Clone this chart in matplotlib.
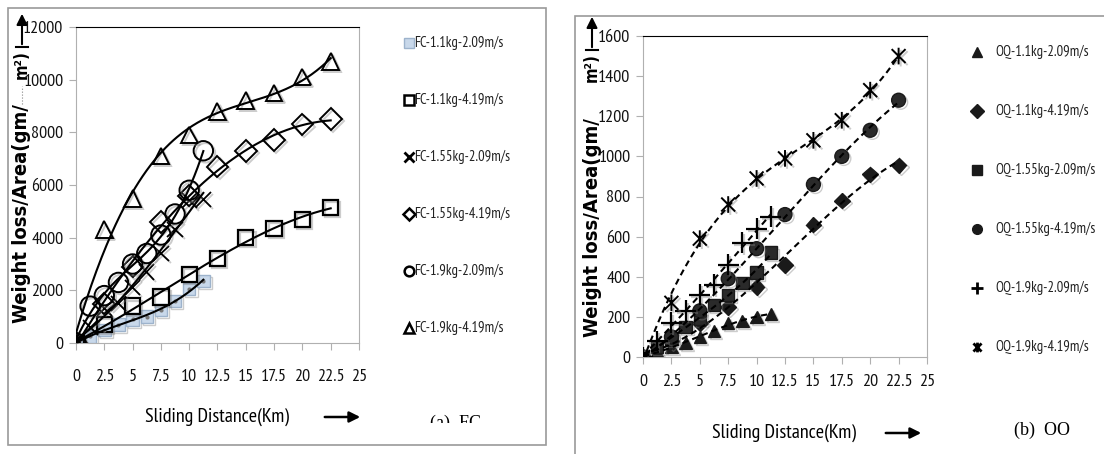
import numpy as np
import matplotlib.pyplot as plt
from matplotlib.lines import Line2D
from matplotlib.patches import Rectangle, FancyArrowPatch
from matplotlib.path import Path
import matplotlib.patheffects as pe

# fuente estrecha parecida a Calibri
plt.rcParams['font.family'] = ['PT Sans Narrow', 'DejaVu Sans']

# Datos
x_corto = [0, 1.25, 2.5, 3.75, 5, 6.25, 7.5, 8.75, 10, 11.25]
x_largo = [0, 2.5, 5, 7.5, 10, 12.5, 15, 17.5, 20, 22.5]
tick_x = [0, 2.5, 5, 7.5, 10, 12.5, 15, 17.5, 20, 22.5, 25]
tick_x_lab = ['0', '2.5', '5', '7.5', '10', '12.5', '15', '17.5', '20', '22.5', '25']

fc_nombres = ['FC-1.1kg-2.09m/s', 'FC-1.1kg-4.19m/s', 'FC-1.55kg-2.09m/s',
              'FC-1.55kg-4.19m/s', 'FC-1.9kg-2.09m/s', 'FC-1.9kg-4.19m/s']
fc_11_209 = [0, 250, 500, 700, 900, 1000, 1250, 1600, 2050, 2350]
fc_11_419 = [0, 700, 1400, 1750, 2600, 3200, 4000, 4350, 4700, 5150]
fc_155_209 = [0, 600, 1300, 1500, 2100, 2700, 3400, 4300, 5400, 5450]
fc_155_419 = [0, 1500, 2900, 4600, 5600, 6700, 7300, 7700, 8300, 8500]
fc_19_209 = [0, 1400, 1800, 2300, 3000, 3400, 4100, 4900, 5800, 7300]
fc_19_419 = [0, 4300, 5500, 7100, 7900, 8800, 9200, 9500, 10100, 10700]

oq_nombres = ['OQ-1.1kg-2.09m/s', 'OQ-1.1kg-4.19m/s', 'OQ-1.55kg-2.09m/s',
              'OQ-1.55kg-4.19m/s', 'OQ-1.9kg-2.09m/s', 'OQ-1.9kg-4.19m/s']
oq_11_209 = [0, 30, 50, 70, 100, 130, 170, 180, 200, 215]
oq_11_419 = [0, 80, 170, 250, 350, 460, 660, 780, 910, 955]
oq_155_209 = [0, 50, 90, 150, 190, 260, 310, 370, 420, 520]
oq_155_419 = [0, 100, 230, 390, 540, 710, 860, 1000, 1130, 1280]
oq_19_209 = [0, 80, 170, 230, 310, 360, 460, 570, 640, 700]
oq_19_419 = [0, 270, 590, 760, 890, 990, 1080, 1180, 1330, 1500]

W, H = 1104, 454
fig = plt.figure(figsize=(W / 100, H / 100), dpi=100)


def fx(p):
    return p / W


def fy(p):
    return 1 - p / H


# marcador "estrella" de Excel: X con linea vertical
estrella = Path([(-1, -1), (1, 1), (-1, 1), (1, -1), (0, -1.2), (0, 1.2)],
                [Path.MOVETO, Path.LINETO, Path.MOVETO, Path.LINETO, Path.MOVETO, Path.LINETO])

sombra = [pe.SimpleLineShadow(offset=(1.5, -1.5), shadow_color='gray', alpha=0.4), pe.Normal()]

# marcos de cada panel
fig.add_artist(Rectangle((fx(8), fy(445)), fx(546 - 8), (445 - 8) / H, transform=fig.transFigure,
                         fill=False, edgecolor='#9a9a9a', lw=1.2))
fig.add_artist(Rectangle((fx(575), fy(470)), fx(560), (470 - 16) / H, transform=fig.transFigure,
                         fill=False, edgecolor='#9a9a9a', lw=1.2))


def preparar(ax, ymax, ystep, pad_x):
    ax.set_xlim(0, 25)
    ax.set_ylim(0, ymax)
    ax.set_xticks(tick_x)
    ax.set_xticklabels(tick_x_lab)
    ax.set_yticks(np.arange(0, ymax + 1, ystep))
    for s in ['left', 'right', 'bottom']:
        ax.spines[s].set_color('#b0b0b0')
    ax.spines['top'].set_color('black')
    ax.tick_params(axis='both', colors='#b0b0b0', labelcolor='#111111', length=5, labelsize=13)
    ax.tick_params(axis='x', pad=pad_x)
    ax.tick_params(axis='y', pad=4)


def tendencia(ax, xs, ys, ls):
    c = np.polyfit(xs, ys, 3)
    xx = np.linspace(xs[0], xs[-1], 200)
    ax.plot(xx, np.polyval(c, xx), color='black', lw=1.5, ls=ls, zorder=4)


# ---------- Panel (a) FC ----------
ax1 = fig.add_axes([fx(76), fy(343), fx(359 - 76), (343 - 27) / H])
preparar(ax1, 12000, 2000, 14)

fc_series = [
    (x_corto, fc_11_209, dict(marker='s', ms=9, mfc='#c8d8ea', mec='#9db3cc', mew=1)),
    (x_largo, fc_11_419, dict(marker='s', ms=11, mfc='none', mec='black', mew=1.6)),
    (x_corto, fc_155_209, dict(marker='x', ms=11, mec='black', mew=1.3)),
    (x_largo, fc_155_419, dict(marker='D', ms=11, mfc='none', mec='black', mew=1.4)),
    (x_corto, fc_19_209, dict(marker='o', ms=14, mfc='none', mec='black', mew=1.4)),
    (x_largo, fc_19_419, dict(marker='^', ms=12, mfc='none', mec='black', mew=1.4)),
]
for xs, ys, st in fc_series:
    ax1.plot(xs, ys, ls='none', zorder=3, path_effects=sombra, **st)
ax1.plot(x_corto, fc_11_209, ls='none', marker='o', ms=3, mfc='#777777', mec='none', zorder=3)
for xs, ys, st in fc_series:
    tendencia(ax1, xs, ys, '-')

# ---------- Panel (b) OQ ----------
ax2 = fig.add_axes([fx(643), fy(357), fx(927 - 643), (357 - 36) / H])
preparar(ax2, 1600, 200, 7)

oq_series = [
    (x_corto, oq_11_209, dict(marker='^', ms=9, mfc='#1a1a1a', mec='#1a1a1a')),
    (x_largo, oq_11_419, dict(marker='D', ms=8, mfc='#1a1a1a', mec='#1a1a1a')),
    (x_corto, oq_155_209, dict(marker='s', ms=9, mfc='#2a2a2a', mec='#1a1a1a')),
    (x_largo, oq_155_419, dict(marker='o', ms=10, mfc='#2a2a2a', mec='#1a1a1a')),
    (x_corto, oq_19_209, dict(marker='+', ms=15, mec='black', mew=1.6)),
    (x_largo, oq_19_419, dict(marker=estrella, ms=12, mec='black', mew=1.4)),
]
for xs, ys, st in oq_series:
    ax2.plot(xs, ys, ls='none', zorder=3, path_effects=sombra, **st)
for xs, ys, st in oq_series:
    tendencia(ax2, xs, ys, (0, (3, 2)))

# ---------- Leyendas manuales ----------
ley_fc_y = [43, 100, 157, 214, 271, 328]
ley_fc_m = [
    dict(marker='s', ms=7, mfc='#c8d8ea', mec='#9db3cc'),
    dict(marker='s', ms=7, mfc='none', mec='black', mew=1.8),
    dict(marker='x', ms=7, mec='black', mew=2),
    dict(marker='D', ms=6, mfc='none', mec='black', mew=1.8),
    dict(marker='o', ms=7, mfc='none', mec='black', mew=1.8),
    dict(marker='^', ms=7, mfc='none', mec='black', mew=1.8),
]
for nombre, yy, st in zip(fc_nombres, ley_fc_y, ley_fc_m):
    fig.add_artist(Line2D([fx(409)], [fy(yy)], transform=fig.transFigure, ls='none', **st))
    fig.text(fx(414), fy(yy), nombre, fontsize=10.5, ha='left', va='center', color='#222222')

ley_oq_y = [52, 111, 170, 229, 288, 347]
ley_oq_m = [
    dict(marker='^', ms=7, mfc='#1a1a1a', mec='#1a1a1a'),
    dict(marker='D', ms=7, mfc='#1a1a1a', mec='#1a1a1a'),
    dict(marker='s', ms=7, mfc='#1a1a1a', mec='#1a1a1a'),
    dict(marker='o', ms=7, mfc='#1a1a1a', mec='#1a1a1a'),
    dict(marker='+', ms=8, mec='black', mew=2),
    dict(marker=estrella, ms=7, mec='black', mew=2),
]
for nombre, yy, st in zip(oq_nombres, ley_oq_y, ley_oq_m):
    fig.add_artist(Line2D([fx(977)], [fy(yy)], transform=fig.transFigure, ls='none', **st))
    fig.text(fx(995), fy(yy), nombre, fontsize=10.5, ha='left', va='center', color='#222222')

# ---------- Rotulos de ejes con flechas ----------
for cx, ybase, arr_bot, puntos in [(22, 323, 47, True), (592, 337, 50, False)]:
    fig.text(fx(cx), fy(ybase), 'Weight loss/Area(gm/', rotation=90, ha='center', va='bottom',
             fontsize=14.5, fontweight='bold', family='DejaVu Sans', fontstretch='condensed')
    fig.text(fx(cx), fy(arr_bot + 3), 'm²)', rotation=90, ha='center', va='top',
             fontsize=12, fontweight='bold', family='DejaVu Sans', fontstretch='condensed')
    if puntos:
        fig.add_artist(Line2D([fx(cx), fx(cx)], [fy(104), fy(86)], transform=fig.transFigure,
                              color='#888888', lw=0.8, ls=':'))
    fig.add_artist(FancyArrowPatch((fx(cx), fy(arr_bot)), (fx(cx), fy(arr_bot - 36)),
                                   transform=fig.transFigure, arrowstyle='-|>', mutation_scale=16,
                                   color='black', lw=1.5))
    fig.add_artist(Line2D([fx(cx - 6), fx(cx + 6)], [fy(arr_bot), fy(arr_bot)],
                          transform=fig.transFigure, color='black', lw=1.5))

for cx, cy, a0, a1 in [(217, 417, 322, 363), (784, 433, 883, 924)]:
    fig.text(fx(cx), fy(cy), 'Sliding Distance(Km)', ha='center', va='center', fontsize=14.5)
    fig.add_artist(FancyArrowPatch((fx(a0), fy(cy)), (fx(a1), fy(cy)), transform=fig.transFigure,
                                   arrowstyle='-|>', mutation_scale=16, color='black', lw=1.8))

# subtitulos (el de (a) queda recortado como en el original)
fig.text(fx(455), fy(423), '(a)  FC', ha='center', va='center', fontsize=13, family='Liberation Serif')
fig.add_artist(Rectangle((fx(420), fy(440)), fx(80), 17 / H, transform=fig.transFigure,
                         facecolor='white', edgecolor='none', zorder=10))
fig.text(fx(1042), fy(430), '(b)  OO', ha='center', va='center', fontsize=13, family='Liberation Serif')

fig.savefig('out.png', dpi=100)
